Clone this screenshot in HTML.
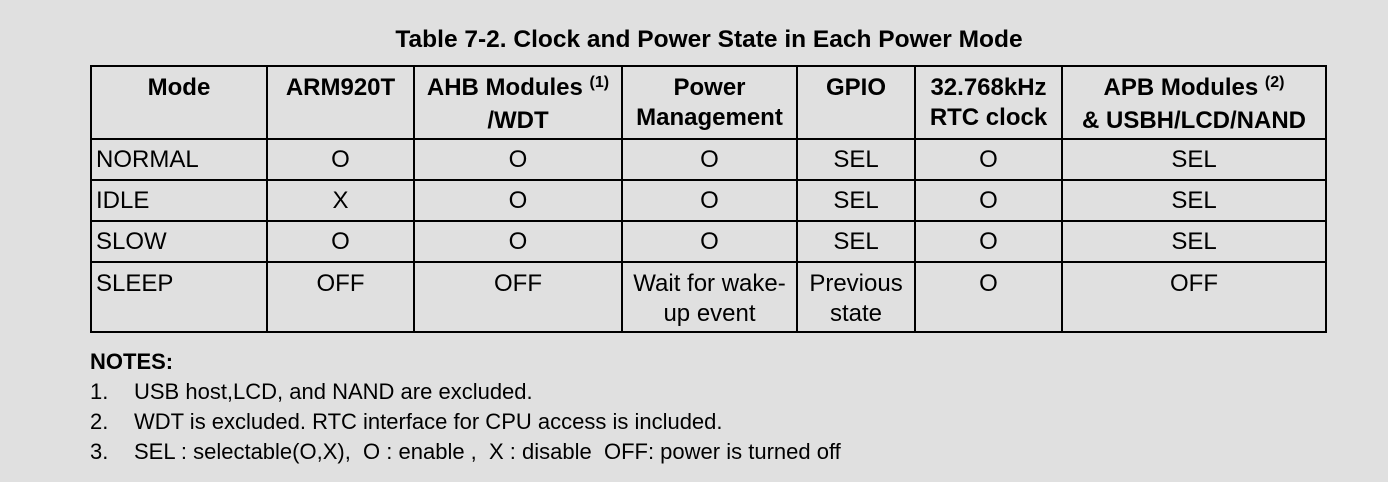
<!DOCTYPE html>
<html><head><style>
body{margin:0;width:1388px;height:482px;background:#e0e0e0;font-family:"Liberation Sans",Arial,sans-serif;color:#000;position:relative;overflow:hidden}
.l{position:absolute;background:#000}
.t{position:absolute;font-size:24px;line-height:30px;text-align:center;white-space:nowrap}
.b{font-weight:bold}
sup{font-size:16px;vertical-align:0;position:relative;top:-8px}
.n{position:absolute;font-size:22px;white-space:nowrap}
</style></head><body>
<div class="t b" style="left:0;width:1418px;top:25px;font-size:24.5px">Table 7-2. Clock and Power State in Each Power Mode</div>
<div class="l" style="left:90px;top:65px;width:1237px;height:2px"></div>
<div class="l" style="left:90px;top:138px;width:1237px;height:2px"></div>
<div class="l" style="left:90px;top:179px;width:1237px;height:2px"></div>
<div class="l" style="left:90px;top:220px;width:1237px;height:2px"></div>
<div class="l" style="left:90px;top:261px;width:1237px;height:2px"></div>
<div class="l" style="left:90px;top:331px;width:1237px;height:2px"></div>
<div class="l" style="left:90px;top:65px;width:2px;height:268px"></div>
<div class="l" style="left:266px;top:65px;width:2px;height:268px"></div>
<div class="l" style="left:413px;top:65px;width:2px;height:268px"></div>
<div class="l" style="left:621px;top:65px;width:2px;height:268px"></div>
<div class="l" style="left:796px;top:65px;width:2px;height:268px"></div>
<div class="l" style="left:914px;top:65px;width:2px;height:268px"></div>
<div class="l" style="left:1061px;top:65px;width:2px;height:268px"></div>
<div class="l" style="left:1325px;top:65px;width:2px;height:268px"></div>
<div class="t b" style="left:92px;width:174px;top:73px">Mode</div>
<div class="t b" style="left:268px;width:145px;top:73px">ARM920T</div>
<div class="t b" style="left:415px;width:206px;top:73px">AHB Modules <sup>(1)</sup><br>/WDT</div>
<div class="t b" style="left:623px;width:173px;top:73px">Power<br>Management</div>
<div class="t b" style="left:798px;width:116px;top:73px">GPIO</div>
<div class="t b" style="left:916px;width:145px;top:73px">32.768kHz<br>RTC clock</div>
<div class="t b" style="left:1063px;width:262px;top:73px">APB Modules <sup>(2)</sup><br>&amp; USBH/LCD/NAND</div>
<div class="t" style="left:96px;top:145px;text-align:left">NORMAL</div>
<div class="t" style="left:96px;top:186px;text-align:left">IDLE</div>
<div class="t" style="left:96px;top:227px;text-align:left">SLOW</div>
<div class="t" style="left:96px;top:269px;text-align:left">SLEEP</div>
<div class="t" style="left:268px;width:145px;top:145px">O</div>
<div class="t" style="left:268px;width:145px;top:186px">X</div>
<div class="t" style="left:268px;width:145px;top:227px">O</div>
<div class="t" style="left:268px;width:145px;top:269px">OFF</div>
<div class="t" style="left:415px;width:206px;top:145px">O</div>
<div class="t" style="left:415px;width:206px;top:186px">O</div>
<div class="t" style="left:415px;width:206px;top:227px">O</div>
<div class="t" style="left:415px;width:206px;top:269px">OFF</div>
<div class="t" style="left:623px;width:173px;top:145px">O</div>
<div class="t" style="left:623px;width:173px;top:186px">O</div>
<div class="t" style="left:623px;width:173px;top:227px">O</div>
<div class="t" style="left:623px;width:173px;top:269px">Wait for wake-<br>up event</div>
<div class="t" style="left:798px;width:116px;top:145px">SEL</div>
<div class="t" style="left:798px;width:116px;top:186px">SEL</div>
<div class="t" style="left:798px;width:116px;top:227px">SEL</div>
<div class="t" style="left:798px;width:116px;top:269px">Previous<br>state</div>
<div class="t" style="left:916px;width:145px;top:145px">O</div>
<div class="t" style="left:916px;width:145px;top:186px">O</div>
<div class="t" style="left:916px;width:145px;top:227px">O</div>
<div class="t" style="left:916px;width:145px;top:269px">O</div>
<div class="t" style="left:1063px;width:262px;top:145px">SEL</div>
<div class="t" style="left:1063px;width:262px;top:186px">SEL</div>
<div class="t" style="left:1063px;width:262px;top:227px">SEL</div>
<div class="t" style="left:1063px;width:262px;top:269px">OFF</div>
<div class="n b" style="left:90px;top:349px">NOTES:</div>
<div class="n" style="left:90px;top:379px">1.</div>
<div class="n" style="left:134px;top:379px">USB host,LCD, and NAND are excluded.</div>
<div class="n" style="left:90px;top:409px">2.</div>
<div class="n" style="left:134px;top:409px">WDT is excluded. RTC interface for CPU access is included.</div>
<div class="n" style="left:90px;top:439px">3.</div>
<div class="n" style="left:134px;top:439px">SEL : selectable(O,X),&nbsp; O : enable ,&nbsp; X : disable&nbsp; OFF: power is turned off</div>
</body></html>
